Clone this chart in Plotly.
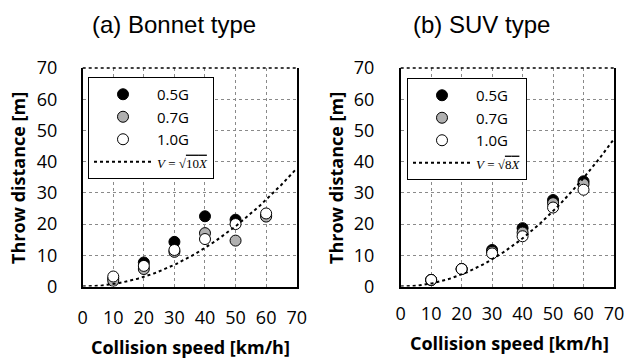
import numpy as np
import plotly.graph_objects as go

# ---- data ----
speeds = [10, 20, 30, 40, 50, 60]
bonnet_05 = [2.5, 7.7, 14.3, 22.5, 21.4, 22.8]
bonnet_07 = [1.8, 5.6, 11.1, 17.1, 14.7, 22.4]
bonnet_10 = [3.2, 6.6, 11.7, 15.2, 20.0, 23.4]
suv_05 = [2.1, 5.6, 11.7, 18.7, 27.7, 33.7]
suv_07 = [2.1, 5.6, 11.1, 17.3, 26.7, 32.8]
suv_10 = [2.1, 5.6, 10.6, 16.1, 25.3, 31.0]
series_names = ["0.5G", "0.7G", "1.0G"]
fill_colors = ["#000000", "#b0b0b0", "#ffffff"]
tick_vals = [0, 10, 20, 30, 40, 50, 60, 70]
# theoretical curve: V[m/s] = sqrt(k X)  with V in km/h / 3.6
k_bonnet = 10
k_suv = 8
curve_speed = np.linspace(0, 70, 141)

W, H = 629, 358
TEXT_FONT = "Open Sans"

fig = go.Figure()

panels = [
    ("x", "y", [bonnet_05, bonnet_07, bonnet_10], k_bonnet, "legend", "10"),
    ("x2", "y2", [suv_05, suv_07, suv_10], k_suv, "legend2", "8"),
]
for xa, ya, sets, k, leg, ktxt in panels:
    for name, vals, col in zip(series_names, sets, fill_colors):
        fig.add_trace(go.Scatter(
            x=speeds, y=vals, mode="markers", name=name, xaxis=xa, yaxis=ya,
            legend=leg,
            marker=dict(size=11, color=col, line=dict(color="#000000", width=1)),
        ))
    dist = (curve_speed / 3.6) ** 2 / k
    label = ("<span style='font-family:Liberation Serif;font-size:13px'><i>V</i> = √"
             "<span style='text-decoration:overline'>" + ktxt + "<i>X</i></span></span>")
    fig.add_trace(go.Scatter(
        x=curve_speed, y=dist, mode="lines", name=label, xaxis=xa, yaxis=ya,
        legend=leg, line=dict(color="#000000", width=2, dash="dot"),
    ))

def px_x(p):
    return p / W

def px_y(p):
    return 1 - p / H

top, bottom = 68, 286.5
axis_common = dict(
    range=[0, 70], tickvals=tick_vals, showgrid=True, gridcolor="#8a8a8a",
    griddash="dot", gridwidth=1, zeroline=False, showline=True,
    linecolor="#000000", linewidth=1.5, ticks="", automargin=False,
    tickfont=dict(family=TEXT_FONT, size=18, color="#000000"),
    fixedrange=True,
)
legend_common = dict(xanchor="left", yanchor="top",
                     bgcolor="#ffffff", bordercolor="#000000", borderwidth=1,
                     font=dict(family=TEXT_FONT, size=15, color="#000000"),
                     itemwidth=58, tracegroupgap=0)
fig.update_layout(
    width=W, height=H, margin=dict(l=0, r=0, t=0, b=0, pad=0, autoexpand=False),
    paper_bgcolor="#ffffff", plot_bgcolor="#ffffff",
    xaxis=dict(domain=[px_x(82.7), px_x(296.7)], anchor="y", ticklabelstandoff=14, **axis_common),
    yaxis=dict(domain=[px_y(bottom), px_y(top)], anchor="x", mirror=True, ticklabelstandoff=20, **axis_common),
    xaxis2=dict(domain=[px_x(400.7), px_x(614)], anchor="y2", ticklabelstandoff=10, **axis_common),
    yaxis2=dict(domain=[px_y(bottom), px_y(top)], anchor="x2", mirror=True, ticklabelstandoff=21, **axis_common),
    showlegend=True,
    legend=dict(x=px_x(88), y=px_y(77), **legend_common),
    legend2=dict(x=px_x(407), y=px_y(78), **legend_common),
)

# dotted top border of each plot
for xa, ya in [("x", "y"), ("x2", "y2")]:
    fig.add_shape(type="line", xref=f"{xa} domain", yref=f"{ya} domain",
                  x0=0, x1=1, y0=1, y1=1, line=dict(color="#000000", width=1.5, dash="dot"))

ann = []
ann.append(dict(text="(a) Bonnet type", x=px_x(174), y=px_y(25)))
ann.append(dict(text="(b) SUV type", x=px_x(482), y=px_y(25)))
for a in ann:
    a.update(xref="paper", yref="paper", showarrow=False, xanchor="center", yanchor="middle",
             font=dict(family="Liberation Sans", size=24, color="#000000"))
    fig.add_annotation(**a)

for txt, x, y in [("Collision speed [km/h]", 190, 347), ("Collision speed [km/h]", 509, 343)]:
    fig.add_annotation(text=f"<b>{txt}</b>", x=px_x(x), y=px_y(y), xref="paper", yref="paper",
                       showarrow=False, xanchor="center", yanchor="middle",
                       font=dict(family=TEXT_FONT, size=18, color="#000000"))
for x in [18, 336]:
    fig.add_annotation(text="<b>Throw distance [m]</b>", x=px_x(x), y=px_y(178), xref="paper", yref="paper",
                       showarrow=False, xanchor="center", yanchor="middle", textangle=-90,
                       font=dict(family=TEXT_FONT, size=18, color="#000000"))

fig.write_html("out.html")
